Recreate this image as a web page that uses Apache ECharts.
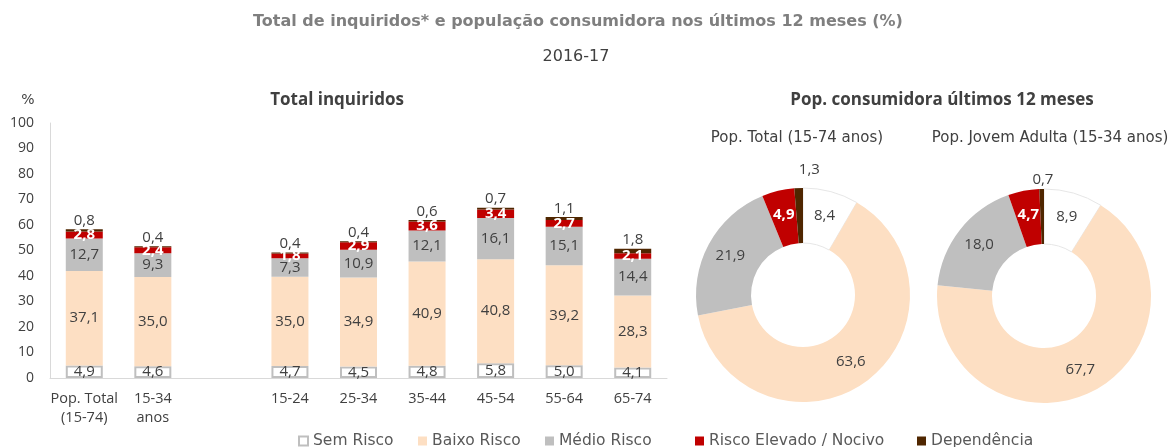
<!DOCTYPE html>
<html>
<head>
<meta charset="utf-8">
<title>Total de inquiridos e população consumidora</title>
<script src="https://cdn.jsdelivr.net/npm/echarts@6/dist/echarts.min.js"></script>
<style>
  html, body { margin: 0; padding: 0; background: #fff; }
  .myChart { width: 1174px; height: 447px; }
</style>
</head>
<body>
<div class="myChart" id="myChart"></div>
<script>
  // categorias do gráfico de barras (a terceira fica vazia, serve de separador)
  const categories = ['Pop. Total\n(15-74)', '15-34\nanos', '', '15-24', '25-34', '35-44', '45-54', '55-64', '65-74'];
  const seriesNames = ['Sem Risco', 'Baixo Risco', 'Médio Risco', 'Risco Elevado / Nocivo', 'Dependência'];

  // Total inquiridos (%)
  const semRisco = [4.9, 4.6, null, 4.7, 4.5, 4.8, 5.8, 5.0, 4.1];
  const baixoRisco = [37.1, 35.0, null, 35.0, 34.9, 40.9, 40.8, 39.2, 28.3];
  const medioRisco = [12.7, 9.3, null, 7.3, 10.9, 12.1, 16.1, 15.1, 14.4];
  const riscoElevado = [2.8, 2.4, null, 1.8, 2.9, 3.6, 3.4, 2.7, 2.1];
  const dependencia = [0.8, 0.4, null, 0.4, 0.4, 0.6, 0.7, 1.1, 1.8];

  // Pop. consumidora últimos 12 meses (%), pela ordem de seriesNames
  const popTotal = [8.4, 63.6, 21.9, 4.9, 1.3];
  const popJovem = [8.9, 67.7, 18.0, 4.7, 0.7];

  const yTicks = { min: 0, max: 100, interval: 10 };

  const FONT = '"Open Sans", "DejaVu Sans", sans-serif';   // números e eixos
  const WIDE = '"DejaVu Sans", sans-serif';                // títulos e legenda
  const TXT = '#404040';
  const colors = ['#ffffff', '#fddfc3', '#bfbfbf', '#c00000', '#4f2600'];

  const fmt = (v) => v == null ? '' : v.toFixed(1).replace('.', ',');

  function barSeries(name, data, idx) {
    let s = {
      name: name,
      type: 'bar',
      stack: 'total',
      barWidth: 37,
      data: data,
      itemStyle: { color: colors[idx] },
      label: {
        show: true,
        position: 'inside',
        color: TXT,
        fontSize: 15,
        fontFamily: FONT,
        formatter: (p) => fmt(p.value)
      }
    };
    if (idx === 0) {
      // sem risco: caixa branca com contorno cinzento
      s.itemStyle = { color: '#fff', borderColor: '#bfbfbf', borderWidth: 2 };
    }
    if (idx === 3) {
      s.label.color = '#fff';
      s.label.fontWeight = 'bold';
    }
    if (idx === 4) {
      s.label.position = 'top';
      s.label.distance = 1;
    }
    return s;
  }

  // lineLen / shift: onde fica o rótulo da fatia "Dependência" (fora do anel)
  function pieSeries(values, center, lineLen, shift) {
    return {
      type: 'pie',
      radius: [52, 107],
      center: center,
      startAngle: 90,
      clockwise: true,
      avoidLabelOverlap: false,
      silent: true,
      label: {
        show: true,
        position: 'inside',
        color: TXT,
        fontSize: 15,
        fontFamily: FONT,
        formatter: (p) => fmt(p.value)
      },
      labelLine: { show: false },
      data: values.map((v, i) => {
        let item = { name: seriesNames[i], value: v, itemStyle: { color: colors[i] } };
        if (i === 0) {
          item.itemStyle.borderColor = '#e6e6e6';
          item.itemStyle.borderWidth = 1;
        }
        if (i === 3) {
          item.label = { color: '#fff', fontWeight: 'bold' };
        }
        if (i === 4) {
          item.label = { position: 'outside', alignTo: 'none', distanceToLabelLine: shift };
          item.labelLine = { show: false, length: lineLen, length2: 0 };
        }
        return item;
      })
    };
  }

  function text(x, y, str, opts) {
    return {
      type: 'text',
      x: x,
      y: y,
      style: Object.assign({
        text: str,
        textAlign: 'center',
        textVerticalAlign: 'middle',
        fill: TXT,
        fontSize: 15,
        fontFamily: WIDE
      }, opts || {})
    };
  }

  const legendLeft = [298, 418, 545, 695, 917];

  let myChart = echarts.init(document.getElementById('myChart'));
  myChart.setOption({
    animation: false,
    textStyle: { fontFamily: FONT },
    graphic: [
      text(578, 22, 'Total de inquiridos* e população consumidora nos últimos 12 meses (%)', { fill: '#7f7f7f', fontWeight: 'bold', fontSize: 16 }),
      text(576, 57, '2016-17', { fontSize: 16 }),
      text(337, 100, 'Total inquiridos', { fontWeight: 'bold', fontSize: 17, fontFamily: FONT }),
      text(942, 100, 'Pop. consumidora últimos 12 meses', { fontWeight: 'bold', fontSize: 17, fontFamily: FONT }),
      text(28, 100, '%', { fontSize: 14 }),
      text(797, 138, 'Pop. Total (15-74 anos)'),
      text(1050, 138, 'Pop. Jovem Adulta (15-34 anos)')
    ],
    legend: seriesNames.map((n, i) => ({
      data: [n],
      left: legendLeft[i],
      top: 433,
      padding: 0,
      itemWidth: 9,
      itemHeight: 9,
      icon: 'rect',
      selectedMode: false,
      textStyle: { color: '#595959', fontSize: 15.5, fontFamily: WIDE }
    })),
    grid: {
      left: 50,
      right: 507,
      top: 123,
      bottom: 69
    },
    xAxis: {
      type: 'category',
      data: categories,
      axisTick: { show: false },
      axisLine: { lineStyle: { color: '#d9d9d9', width: 1 } },
      axisLabel: {
        interval: 0,
        color: TXT,
        fontSize: 14.5,
        fontFamily: FONT,
        margin: 11,
        lineHeight: 19
      }
    },
    yAxis: {
      type: 'value',
      min: yTicks.min,
      max: yTicks.max,
      interval: yTicks.interval,
      splitLine: { show: false },
      axisTick: { show: false },
      axisLine: { show: true, lineStyle: { color: '#d9d9d9', width: 1 } },
      axisLabel: { color: TXT, fontSize: 14, fontFamily: FONT, margin: 16 }
    },
    series: [
      barSeries(seriesNames[0], semRisco, 0),
      barSeries(seriesNames[1], baixoRisco, 1),
      barSeries(seriesNames[2], medioRisco, 2),
      barSeries(seriesNames[3], riscoElevado, 3),
      barSeries(seriesNames[4], dependencia, 4),
      pieSeries(popTotal, [803, 295], 18, -22),
      pieSeries(popJovem, [1044, 296], 9, -12)
    ]
  });
</script>
</body>
</html>
